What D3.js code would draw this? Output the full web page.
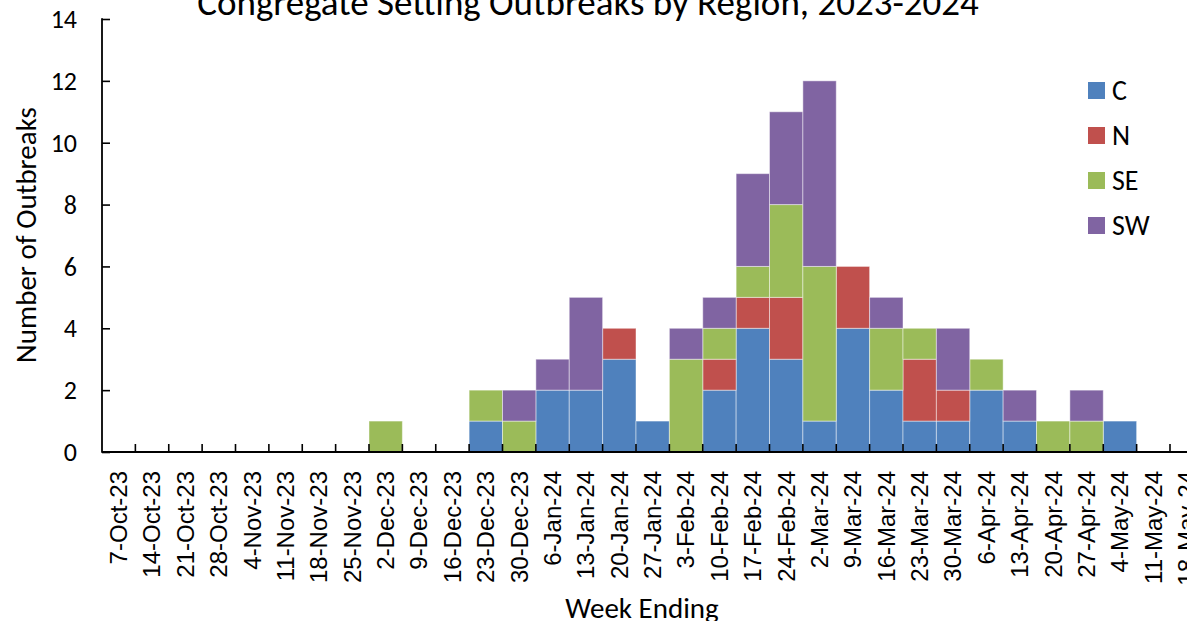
<!DOCTYPE html>
<html>
<head>
<meta charset="utf-8">
<script src="https://cdn.jsdelivr.net/npm/d3@7"></script>
<style>
  body { margin: 0; background: #fff; }
  svg { display: block; }
</style>
</head>
<body>
<svg id="chart" width="1187" height="621"></svg>
<script>
const weeks = ['7-Oct-23', '14-Oct-23', '21-Oct-23', '28-Oct-23', '4-Nov-23', '11-Nov-23',
    '18-Nov-23', '25-Nov-23', '2-Dec-23', '9-Dec-23', '16-Dec-23', '23-Dec-23', '30-Dec-23',
    '6-Jan-24', '13-Jan-24', '20-Jan-24', '27-Jan-24', '3-Feb-24', '10-Feb-24', '17-Feb-24',
    '24-Feb-24', '2-Mar-24', '9-Mar-24', '16-Mar-24', '23-Mar-24', '30-Mar-24', '6-Apr-24',
    '13-Apr-24', '20-Apr-24', '27-Apr-24', '4-May-24', '11-May-24', '18-May-24'];
const regions = ['C', 'N', 'SE', 'SW'];
const cValues  = [0,0,0,0,0,0,0,0,0,0,0,1,0,2,2,3,1,0,2,4,3,1,4,2,1,1,2,1,0,0,1,0,0];
const nValues  = [0,0,0,0,0,0,0,0,0,0,0,0,0,0,0,1,0,0,1,1,2,0,2,0,2,1,0,0,0,0,0,0,0];
const seValues = [0,0,0,0,0,0,0,0,1,0,0,1,1,0,0,0,0,3,1,1,3,5,0,2,1,0,1,0,1,1,0,0,0];
const swValues = [0,0,0,0,0,0,0,0,0,0,0,0,1,1,3,0,0,1,1,3,3,6,0,1,0,2,0,1,0,1,0,0,0];
const yTicks = [0, 2, 4, 6, 8, 10, 12, 14];
const colors = ['#4F81BD', '#C0504D', '#9BBB59', '#8064A2'];

const calibri = 'Calibri, Carlito, Lato, sans-serif';
const svg = d3.select('#chart');

const plotLeft = 102, plotTop = 19, plotBottom = 452;
const band = 33.375;

const x = d3.scaleBand()
    .domain(weeks)
    .range([plotLeft, plotLeft + band * weeks.length])
    .padding(0);
const y = d3.scaleLinear().domain([0, 14]).range([plotBottom, plotTop]);

const table = weeks.map((w, i) => ({
    week: w, C: cValues[i], N: nValues[i], SE: seValues[i], SW: swValues[i],
}));
const stacked = d3.stack().keys(regions)(table);

svg.append('g')
    .selectAll('g')
    .data(stacked)
    .enter()
    .append('g')
    .attr('fill', (d, i) => colors[i])
    .selectAll('rect')
    .data(d => d.filter(p => p[1] > p[0]))
    .enter()
    .append('rect')
    .attr('x', d => x(d.data.week))
    .attr('width', x.bandwidth())
    .attr('y', d => y(d[1]))
    .attr('height', d => y(d[0]) - y(d[1]))
    .attr('stroke', 'rgba(255,255,255,0.45)')
    .attr('stroke-width', 1);

// y axis
const yAxis = svg.append('g')
    .attr('transform', `translate(${plotLeft},0)`)
    .call(d3.axisRight(y).tickValues(yTicks).tickSize(8).tickFormat(''));
yAxis.select('.domain').remove();
yAxis.selectAll('line').attr('stroke', '#000').attr('stroke-width', 1.6);
svg.append('line')
    .attr('x1', plotLeft).attr('x2', plotLeft)
    .attr('y1', plotTop - 0.8).attr('y2', plotBottom + 0.8)
    .attr('stroke', '#000').attr('stroke-width', 1.8);

svg.append('g')
    .selectAll('text')
    .data(yTicks)
    .enter()
    .append('text')
    .attr('x', 77)
    .attr('y', d => y(d))
    .attr('dy', '0.35em')
    .attr('text-anchor', 'end')
    .style('font-family', calibri)
    .style('font-size', '26px')
    .text(d => d);

// x axis
const xAxis = svg.append('g')
    .attr('transform', `translate(0,${plotBottom})`)
    .call(d3.axisTop(x).tickSize(8).tickFormat(''));
xAxis.select('.domain').remove();
xAxis.selectAll('.tick').attr('transform', d => `translate(${x(d) + x.bandwidth()},0)`);
xAxis.selectAll('line').attr('stroke', '#000').attr('stroke-width', 1.6);
svg.append('line')
    .attr('x1', plotLeft).attr('x2', 1187)
    .attr('y1', plotBottom).attr('y2', plotBottom)
    .attr('stroke', '#000').attr('stroke-width', 1.8);

svg.append('g')
    .selectAll('text')
    .data(weeks)
    .enter()
    .append('text')
    .attr('transform', d => `translate(${x(d) + x.bandwidth() / 2},471) rotate(-90)`)
    .attr('text-anchor', 'end')
    .attr('dy', '0.35em')
    .style('font-family', '"Liberation Sans", Arial, sans-serif')
    .style('font-size', '24px')
    .text(d => d);

// titles
svg.append('text')
    .attr('x', 588)
    .attr('y', 15)
    .attr('text-anchor', 'middle')
    .style('font-family', calibri)
    .style('font-size', '37px')
    .text('Congregate Setting Outbreaks by Region, 2023-2024');

svg.append('text')
    .attr('transform', 'translate(36,235) rotate(-90)')
    .attr('text-anchor', 'middle')
    .style('font-family', calibri)
    .style('font-size', '29px')
    .text('Number of Outbreaks');

svg.append('text')
    .attr('x', 642)
    .attr('y', 618)
    .attr('text-anchor', 'middle')
    .style('font-family', calibri)
    .style('font-size', '29px')
    .text('Week Ending');

// legend
const legend = svg.append('g')
    .selectAll('g')
    .data(regions)
    .enter()
    .append('g')
    .attr('transform', (d, i) => `translate(1088,${82 + i * 45})`);
legend.append('rect')
    .attr('width', 17)
    .attr('height', 17)
    .attr('fill', (d, i) => colors[i]);
legend.append('text')
    .attr('x', 24)
    .attr('y', 8.5)
    .attr('dy', '0.35em')
    .style('font-family', calibri)
    .style('font-size', '28px')
    .text(d => d);
</script>
</body>
</html>
